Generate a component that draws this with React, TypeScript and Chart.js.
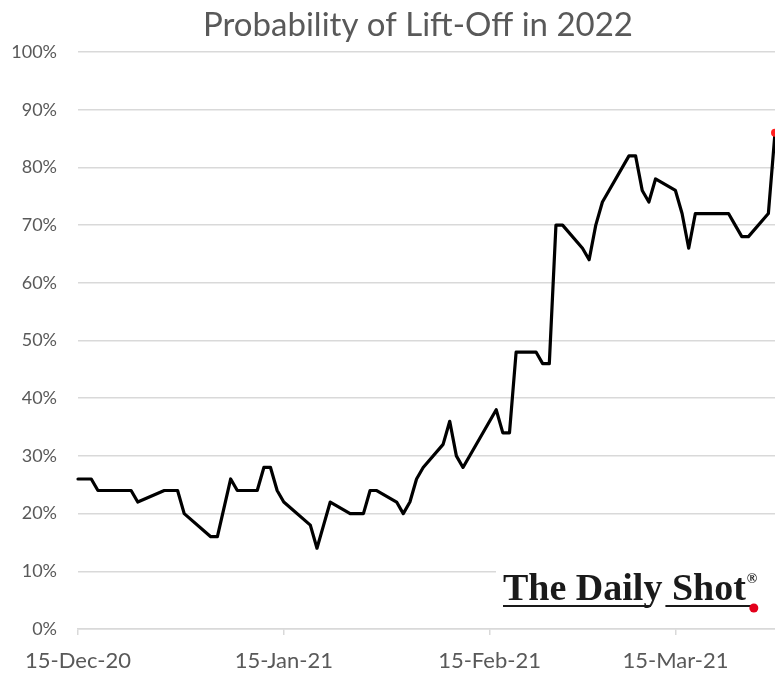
import { useEffect, useRef } from "react";
import { Chart, registerables } from "chart.js";

Chart.register(...registerables);

const chartTitle = "Probability of Lift-Off in 2022";
const logoText = "The Daily Shot";

const dates = [
  "2020-12-15", "2020-12-16", "2020-12-17", "2020-12-18", "2020-12-21", "2020-12-22",
  "2020-12-23", "2020-12-24", "2020-12-28", "2020-12-29", "2020-12-30", "2020-12-31",
  "2021-01-04", "2021-01-05", "2021-01-07", "2021-01-08", "2021-01-11", "2021-01-12",
  "2021-01-13", "2021-01-14", "2021-01-15", "2021-01-19", "2021-01-20", "2021-01-21",
  "2021-01-22", "2021-01-25", "2021-01-26", "2021-01-27", "2021-01-28", "2021-01-29",
  "2021-02-01", "2021-02-02", "2021-02-03", "2021-02-04", "2021-02-05", "2021-02-08",
  "2021-02-09", "2021-02-10", "2021-02-11", "2021-02-16", "2021-02-17", "2021-02-18",
  "2021-02-19", "2021-02-22", "2021-02-23", "2021-02-24", "2021-02-25", "2021-02-26",
  "2021-03-01", "2021-03-02", "2021-03-03", "2021-03-04", "2021-03-05", "2021-03-08",
  "2021-03-09", "2021-03-10", "2021-03-11", "2021-03-12", "2021-03-15", "2021-03-16",
  "2021-03-17", "2021-03-18", "2021-03-19", "2021-03-22", "2021-03-23", "2021-03-24",
  "2021-03-25", "2021-03-26", "2021-03-29", "2021-03-30",
];

const probability = [
  26, 26, 26, 24, 24, 24,
  24, 22, 24, 24, 24, 20,
  16, 16, 26, 24, 24, 28,
  28, 24, 22, 18, 14, 18,
  22, 20, 20, 20, 24, 24,
  22, 20, 22, 26, 28, 32,
  36, 30, 28, 38, 34, 34,
  48, 48, 46, 46, 70, 70,
  66, 64, 70, 74, 76, 82,
  82, 76, 74, 78, 76, 72,
  66, 72, 72, 72, 72, 70,
  68, 68, 72, 86,
];

const tickDates = ["2020-12-15", "2021-01-15", "2021-02-15", "2021-03-15"];
const tickLabels = ["15-Dec-20", "15-Jan-21", "15-Feb-21", "15-Mar-21"];

const DAY_MS = 86400000;
const originMs = Date.parse(dates[0]);
const toDay = (d: string) => Math.round((Date.parse(d) - originMs) / DAY_MS);

const TEXT_GRAY = "#595959";
const GRID_GRAY = "#d9d9d9";
const FONT = "Lato, 'Open Sans', sans-serif";
const SERIF = "'Liberation Serif', 'DejaVu Serif', serif";

const titlePlugin = {
  id: "customTitle",
  afterDraw(chart: any) {
    const ctx = chart.ctx;
    ctx.save();
    ctx.fillStyle = TEXT_GRAY;
    ctx.font = `33px ${FONT}`;
    ctx.textAlign = "center";
    ctx.textBaseline = "alphabetic";
    ctx.fillText(chartTitle, 418, 36);
    ctx.restore();
  },
};

const logoPlugin = {
  id: "logo",
  afterDraw(chart: any) {
    const ctx = chart.ctx;
    const x0 = 503;
    const base = 600;
    ctx.save();
    ctx.fillStyle = "#ffffff";
    ctx.fillRect(496, 566, 290, 56);
    ctx.fillStyle = "#1a1a1a";
    ctx.font = `bold 38px ${SERIF}`;
    ctx.textAlign = "left";
    ctx.textBaseline = "alphabetic";
    ctx.fillText(logoText, x0, base);
    const w = ctx.measureText(logoText).width;
    const wDail = ctx.measureText("The Dail").width;
    const wDaily = ctx.measureText("The Daily").width;
    ctx.font = `bold 14px ${SERIF}`;
    ctx.fillText("\u00AE", x0 + w + 1, base - 17);
    ctx.strokeStyle = "#1a1a1a";
    ctx.lineWidth = 2.2;
    ctx.beginPath();
    ctx.moveTo(x0, base + 6);
    ctx.lineTo(x0 + wDail + (wDaily - wDail) * 0.4, base + 6);
    ctx.moveTo(x0 + wDaily + 3, base + 6);
    ctx.lineTo(x0 + w + 6, base + 6);
    ctx.stroke();
    ctx.fillStyle = "#e3001b";
    ctx.beginPath();
    ctx.arc(x0 + w + 8, base + 8, 4.5, 0, Math.PI * 2);
    ctx.fill();
    ctx.restore();
  },
};

export default function App() {
  const ref = useRef<HTMLCanvasElement | null>(null);

  useEffect(() => {
    if (!ref.current) return;
    const points = dates.map((d, i) => ({ x: toDay(d), y: probability[i] }));
    const last = points.length - 1;
    const chart = new Chart(ref.current, {
      type: "line",
      data: {
        datasets: [
          {
            data: points,
            borderColor: "#000000",
            borderWidth: 3.2,
            borderJoinStyle: "round",
            borderCapStyle: "round",
            tension: 0,
            pointRadius: points.map((_, i) => (i === last ? 4 : 0)),
            pointBackgroundColor: "#ff2020",
            pointBorderWidth: 0,
            clip: false as any,
          },
        ],
      },
      options: {
        responsive: false,
        animation: false,
        devicePixelRatio: 1,
        layout: { autoPadding: false, padding: { top: 52, right: 0, bottom: 0, left: 0 } },
        plugins: {
          legend: { display: false },
          tooltip: { enabled: false },
          title: { display: false },
        },
        scales: {
          x: {
            type: "linear",
            min: 0,
            max: toDay(dates[dates.length - 1]),
            afterBuildTicks: (scale: any) => {
              scale.ticks = tickDates.map((d) => ({ value: toDay(d) }));
            },
            afterFit: (scale: any) => {
              scale.height = 46;
            },
            ticks: {
              autoSkip: false,
              maxRotation: 0,
              color: TEXT_GRAY,
              font: { family: FONT, size: 22 },
              padding: 13,
              callback: (v: any) => {
                const idx = tickDates.findIndex((d) => toDay(d) === v);
                return idx >= 0 ? tickLabels[idx] : "";
              },
            },
            grid: {
              drawOnChartArea: false,
              drawTicks: true,
              tickLength: 6,
              tickColor: GRID_GRAY,
              lineWidth: 1.5,
            },
            border: { display: true, color: GRID_GRAY, width: 1.5 },
          },
          y: {
            min: 0,
            max: 100,
            afterFit: (scale: any) => {
              scale.width = 78;
            },
            ticks: {
              stepSize: 10,
              color: TEXT_GRAY,
              font: { family: FONT, size: 18 },
              padding: 21,
              callback: (v: any) => `${v}%`,
            },
            grid: {
              color: GRID_GRAY,
              lineWidth: 1.5,
              drawTicks: false,
            },
            border: { display: false },
          },
        },
      },
      plugins: [titlePlugin, logoPlugin],
    });
    return () => chart.destroy();
  }, []);

  return (
    <div style={{ position: "fixed", left: 0, top: 0, width: 775, height: 675, background: "#ffffff" }}>
      <canvas ref={ref} width={775} height={675} style={{ display: "block" }} />
    </div>
  );
}
